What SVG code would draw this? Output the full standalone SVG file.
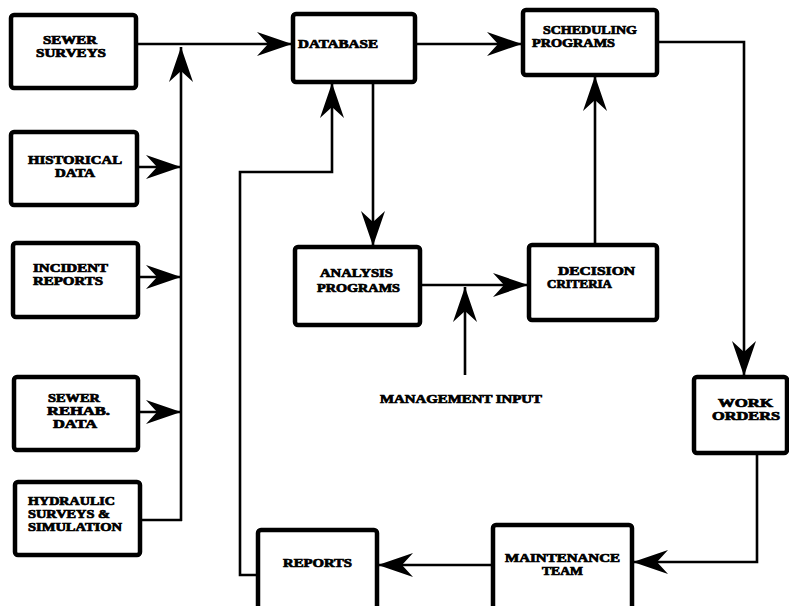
<svg xmlns="http://www.w3.org/2000/svg" width="789" height="606" viewBox="0 0 789 606">
<style>
.box{fill:#fff;stroke:#000;stroke-width:4.5;stroke-linejoin:round}
.t{font-family:"Liberation Serif","Times New Roman",serif;font-weight:bold;font-size:11.5px;fill:#000;stroke:#000;stroke-width:0.7}
.c{fill:none;stroke:#000;stroke-width:2.6;stroke-linejoin:miter}
</style>
<defs>
<marker id="ah" markerUnits="userSpaceOnUse" viewBox="-36 -13 37 26" refX="0" refY="0" markerWidth="37" markerHeight="26" orient="auto">
<path d="M0,0 L-35,-12 L-24,0 L-35,12 Z" fill="#000"/>
</marker>
</defs>
<rect width="789" height="606" fill="#fff"/>
<g id="connectors">
<line class="c" x1="137" y1="44" x2="292" y2="44" marker-end="url(#ah)"/>
<line class="c" x1="181" y1="521" x2="181" y2="47" marker-end="url(#ah)"/>
<line class="c" x1="137" y1="167" x2="181" y2="167" marker-end="url(#ah)"/>
<line class="c" x1="138" y1="277" x2="181" y2="277" marker-end="url(#ah)"/>
<line class="c" x1="138" y1="412" x2="181" y2="412" marker-end="url(#ah)"/>
<polyline class="c" points="140,520 182,520"/>
<line class="c" x1="415" y1="44" x2="522" y2="44" marker-end="url(#ah)"/>
<line class="c" x1="373" y1="82" x2="373" y2="246" marker-end="url(#ah)"/>
<line class="c" x1="420" y1="285" x2="528" y2="285" marker-end="url(#ah)"/>
<line class="c" x1="465" y1="375" x2="465" y2="287" marker-end="url(#ah)"/>
<line class="c" x1="595" y1="245" x2="595" y2="76" marker-end="url(#ah)"/>
<polyline class="c" points="657,42 744,42 744,376" marker-end="url(#ah)"/>
<polyline class="c" points="757,453 757,562 633,562" marker-end="url(#ah)"/>
<line class="c" x1="493" y1="565" x2="378" y2="565" marker-end="url(#ah)"/>
<polyline class="c" points="258,575 240,575 240,172 332,172 332,83" marker-end="url(#ah)"/>
</g>
<g id="sewer-surveys"><rect class="box" x="11" y="15" width="125" height="73" rx="3"/>
<text class="t" x="43" y="44" textLength="54" lengthAdjust="spacingAndGlyphs">SEWER</text>
<text class="t" x="36" y="57" textLength="70" lengthAdjust="spacingAndGlyphs">SURVEYS</text></g>
<g id="historical-data"><rect class="box" x="11" y="132" width="126" height="73" rx="3"/>
<text class="t" x="28" y="164" textLength="94" lengthAdjust="spacingAndGlyphs">HISTORICAL</text>
<text class="t" x="55" y="177" textLength="40" lengthAdjust="spacingAndGlyphs">DATA</text></g>
<g id="incident-reports"><rect class="box" x="13" y="243" width="125" height="74" rx="3"/>
<text class="t" x="33" y="272" textLength="75" lengthAdjust="spacingAndGlyphs">INCIDENT</text>
<text class="t" x="33" y="285" textLength="70" lengthAdjust="spacingAndGlyphs">REPORTS</text></g>
<g id="sewer-rehab-data"><rect class="box" x="14" y="377" width="124" height="73" rx="3"/>
<text class="t" x="48" y="402" textLength="52" lengthAdjust="spacingAndGlyphs">SEWER</text>
<text class="t" x="47" y="415" textLength="63" lengthAdjust="spacingAndGlyphs">REHAB.</text>
<text class="t" x="53" y="428" textLength="44" lengthAdjust="spacingAndGlyphs">DATA</text></g>
<g id="hydraulic"><rect class="box" x="15" y="482" width="125" height="73" rx="3"/>
<text class="t" x="28" y="505" textLength="87" lengthAdjust="spacingAndGlyphs">HYDRAULIC</text>
<text class="t" x="28" y="518" textLength="82" lengthAdjust="spacingAndGlyphs">SURVEYS &amp;</text>
<text class="t" x="28" y="531" textLength="94" lengthAdjust="spacingAndGlyphs">SIMULATION</text></g>
<g id="database"><rect class="box" x="293" y="14" width="122" height="68" rx="3"/>
<text class="t" x="298" y="48" textLength="80" lengthAdjust="spacingAndGlyphs">DATABASE</text></g>
<g id="scheduling-programs"><rect class="box" x="523" y="10" width="134" height="65" rx="3"/>
<text class="t" x="543" y="34" textLength="94" lengthAdjust="spacingAndGlyphs">SCHEDULING</text>
<text class="t" x="532" y="47" textLength="83" lengthAdjust="spacingAndGlyphs">PROGRAMS</text></g>
<g id="analysis-programs"><rect class="box" x="295" y="247" width="125" height="78" rx="3"/>
<text class="t" x="320" y="277" textLength="73" lengthAdjust="spacingAndGlyphs">ANALYSIS</text>
<text class="t" x="317" y="292" textLength="83" lengthAdjust="spacingAndGlyphs">PROGRAMS</text></g>
<g id="decision-criteria"><rect class="box" x="529" y="245" width="128" height="75" rx="3"/>
<text class="t" x="558" y="275" textLength="77" lengthAdjust="spacingAndGlyphs">DECISION</text>
<text class="t" x="547" y="288" textLength="65" lengthAdjust="spacingAndGlyphs">CRITERIA</text></g>
<g id="management-input">
<text class="t" x="380" y="403" textLength="162" lengthAdjust="spacingAndGlyphs">MANAGEMENT INPUT</text></g>
<g id="work-orders"><rect class="box" x="694" y="377" width="93" height="76" rx="3"/>
<text class="t" x="718" y="407" textLength="55" lengthAdjust="spacingAndGlyphs">WORK</text>
<text class="t" x="712" y="420" textLength="68" lengthAdjust="spacingAndGlyphs">ORDERS</text></g>
<g id="maintenance-team"><rect class="box" x="493" y="525" width="139" height="90" rx="3"/>
<text class="t" x="505" y="562" textLength="115" lengthAdjust="spacingAndGlyphs">MAINTENANCE</text>
<text class="t" x="542" y="575" textLength="41" lengthAdjust="spacingAndGlyphs">TEAM</text></g>
<g id="reports"><rect class="box" x="258" y="530" width="119" height="85" rx="3"/>
<text class="t" x="283" y="567" textLength="69" lengthAdjust="spacingAndGlyphs">REPORTS</text></g>
</svg>
